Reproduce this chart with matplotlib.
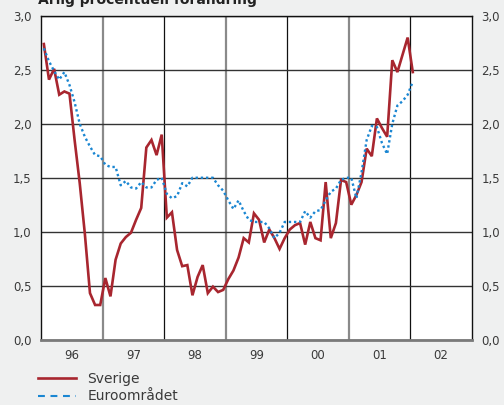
"""Årlig procentuell förändring — Sverige vs Euroområdet, 1996-2002."""
import numpy as np
import matplotlib
matplotlib.use("Agg")
import matplotlib.pyplot as plt
from matplotlib.lines import Line2D

# monthly values, Jan 1996 - Jan 2002
sverige = [
    2.74, 2.41, 2.51, 2.27, 2.30, 2.28, 1.85, 1.45, 0.98, 0.43, 0.32, 0.32,   # 96
    0.57, 0.40, 0.74, 0.89, 0.95, 0.99, 1.11, 1.22, 1.78, 1.85, 1.71, 1.90,   # 97
    1.13, 1.18, 0.83, 0.68, 0.69, 0.41, 0.58, 0.69, 0.43, 0.49, 0.44, 0.46,   # 98
    0.56, 0.64, 0.76, 0.94, 0.90, 1.17, 1.11, 0.90, 1.02, 0.94, 0.84, 0.94,   # 99
    1.02, 1.06, 1.08, 0.88, 1.09, 0.94, 0.92, 1.46, 0.94, 1.08, 1.48, 1.46,   # 00
    1.25, 1.34, 1.46, 1.77, 1.70, 2.05, 1.96, 1.88, 2.59, 2.48, 2.64, 2.80,   # 01
    2.48,                                                                     # 02
]
euro = [
    2.70, 2.58, 2.49, 2.41, 2.48, 2.36, 2.20, 2.00, 1.88, 1.79, 1.71, 1.70,
    1.62, 1.60, 1.60, 1.43, 1.47, 1.41, 1.40, 1.46, 1.41, 1.41, 1.48, 1.50,
    1.35, 1.31, 1.33, 1.45, 1.42, 1.50, 1.50, 1.50, 1.50, 1.50, 1.43, 1.38,
    1.29, 1.21, 1.29, 1.19, 1.11, 1.09, 1.09, 1.09, 1.03, 0.94, 0.99, 1.09,
    1.09, 1.09, 1.09, 1.19, 1.13, 1.19, 1.20, 1.29, 1.37, 1.40, 1.48, 1.50,
    1.50, 1.31, 1.55, 1.85, 1.98, 1.97, 1.82, 1.72, 2.00, 2.17, 2.21, 2.27,
    2.39,
]
year_labels = ["96", "97", "98", "99", "00", "01", "02"]
y_ticks = [0.0, 0.5, 1.0, 1.5, 2.0, 2.5, 3.0]

t = 1996 + (np.arange(len(sverige)) + 0.5) / 12

bg = "#eff0f0"
red = "#a8262f"
blue = "#1a86d2"
txt = "#3a3a3a"

fig = plt.figure(figsize=(5.04, 4.05), dpi=100, facecolor=bg)
ax = fig.add_axes([41.3 / 504, 1 - 339.5 / 405, 430.4 / 504, 323.5 / 405])
ax.set_facecolor("white")

ax.plot(t, sverige, color=red, lw=1.9, solid_joinstyle="miter", zorder=3)
ax.plot(t, euro, color=blue, lw=1.7, linestyle=(0, (1, 1.2)), zorder=4)

ax.set_xlim(1996, 2003)
ax.set_ylim(0, 3)

# year boundaries as gridlines, labels in the middle of each year
ax.set_xticks(np.arange(1997, 2003))
ax.set_xticklabels([])
ax.set_xticks(np.arange(1996, 2003) + 0.5, minor=True)
ax.set_xticklabels(year_labels, minor=True)
ax.set_yticks(y_ticks)
ax.set_yticklabels([f"{v:.1f}".replace(".", ",") for v in y_ticks])

ax.tick_params(axis="x", which="both", length=0, pad=7, labelsize=8.5, labelcolor=txt)
ax.tick_params(axis="y", length=0, pad=7, labelsize=8.5, labelcolor=txt,
               labelright=True)

ax.grid(axis="y", color="#333333", lw=1.0)
ax.grid(axis="x", which="major", lw=1.0)
for i, gl in enumerate(ax.get_xgridlines()):
    if i % 2 == 0:
        gl.set_color("#8a8a8a")
        gl.set_linewidth(1.6)
    else:
        gl.set_color("#111111")
        gl.set_linewidth(0.9)
ax.set_axisbelow(True)

for side in ["top", "left", "right"]:
    ax.spines[side].set_color("#111111")
    ax.spines[side].set_linewidth(1.0)
ax.spines["bottom"].set_color("#7a7a7a")
ax.spines["bottom"].set_linewidth(2.0)

fig.text(38 / 504, 1 - 4 / 405, "Årlig procentuell förändring",
         fontsize=10, fontweight="bold", color="#222222", va="baseline", ha="left")

handles = [
    Line2D([], [], color=red, lw=1.9),
    Line2D([], [], color=blue, lw=1.5, linestyle=(0, (3.3, 2.7))),
]
fig.legend(handles, ["Sverige", "Euroområdet"], loc="upper left",
           bbox_to_anchor=(38 / 504, 1 - 372 / 405), frameon=False,
           fontsize=10, handlelength=2.75, handletextpad=0.8,
           labelspacing=0.25, borderpad=0, borderaxespad=0, labelcolor=txt)

plt.savefig("out.png", dpi=100, facecolor=bg)
plt.close()
